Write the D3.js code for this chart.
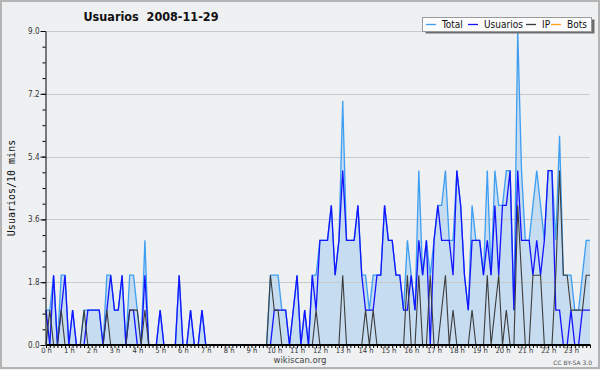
<!DOCTYPE html>
<html><head><meta charset="utf-8">
<script src="https://cdn.jsdelivr.net/npm/d3@7"></script>
<style>
body{margin:0;background:#fff;}
svg text{font-family:"DejaVu Sans Condensed","DejaVu Sans",sans-serif;font-stretch:condensed;}
</style></head><body>
<svg id="c" width="600" height="370"></svg>
<script>
const titleText = "Usuarios  2008-11-29";
const yLabel = "Usuarios/10 mins";
const hourLabels = ["0 h","1 h","2 h","3 h","4 h","5 h","6 h","7 h","8 h","9 h","10 h","11 h","12 h","13 h","14 h","15 h","16 h","17 h","18 h","19 h","20 h","21 h","22 h","23 h"];
const yTickValues = [0, 1.8, 3.6, 5.4, 7.2, 9.0];
const seriesNames = ["Total","Usuarios","IP","Bots"];

const total = [
1,1,2,0,2,2, 0,1,0,0,1,1, 1,1,1,0,2,2, 1,1,2,0,2,2,
1,0,3,0,0,0, 1,0,0,0,0,2, 0,0,1,0,0,1, 0,0,0,0,0,0,
0,0,0,0,0,0, 0,0,0,0,0,2, 2,2,1,1,0,1, 2,0,1,0,2,2,
3,3,3,4,2,3, 7,3,3,3,4,2, 2,1,2,2,2,4, 3,3,2,2,1,3,
2,1,5,2,3,2, 3,4,4,5,3,3, 5,4,2,1,4,3, 3,2,5,2,5,4,
4,5,5,1,9,5, 3,3,4,5,4,3, 5,5,3,6,2,2, 2,1,1,2,3,3];
const usuarios = [
1,0,2,0,1,2, 0,1,0,0,0,1, 1,1,1,0,1,2, 1,1,2,0,1,1,
0,0,2,0,0,0, 1,0,0,0,0,2, 0,0,1,0,0,1, 0,0,0,0,0,0,
0,0,0,0,0,0, 0,0,0,0,0,0, 1,1,1,1,0,1, 2,0,1,0,2,1,
3,3,3,4,2,3, 5,3,3,3,4,2, 1,1,1,2,2,4, 3,3,2,2,1,1,
2,1,3,2,3,0, 3,4,3,3,3,2, 5,4,2,1,3,3, 3,2,3,2,4,2,
4,4,5,1,5,3, 3,3,2,3,2,3, 5,5,1,1,0,0, 1,0,0,1,1,1];
const ip = [
0,1,0,0,1,0, 0,0,0,0,1,0, 0,0,0,0,1,0, 0,0,0,0,1,1,
1,0,1,0,0,0, 0,0,0,0,0,0, 0,0,0,0,0,0, 0,0,0,0,0,0,
0,0,0,0,0,0, 0,0,0,0,0,2, 1,1,0,0,0,0, 0,0,0,0,0,1,
0,0,0,0,0,0, 2,0,0,0,0,0, 1,0,1,0,0,0, 0,0,0,0,0,2,
0,0,2,0,0,2, 0,0,1,2,0,1, 0,0,0,0,1,0, 0,0,2,0,1,2,
0,1,0,0,4,2, 0,0,2,2,2,0, 0,0,2,5,2,2, 1,1,1,1,2,2];
const bots = [
0,0,0,0,0,0, 0,0,0,0,0,0, 0,0,0,0,0,0, 0,0,0,0,0,0,
0,0,0,0,0,0, 0,0,0,0,0,0, 0,0,0,0,0,0, 0,0,0,0,0,0,
0,0,0,0,0,0, 0,0,0,0,0,0, 0,0,0,0,0,0, 0,0,0,0,0,0,
0,0,0,0,0,0, 0,0,0,0,0,0, 0,0,0,0,0,0, 0,0,0,0,0,0,
0,0,0,0,0,0, 0,0,0,0,0,0, 0,0,0,0,0,0, 0,0,0,0,0,0,
0,0,0,0,0,0, 0,0,0,0,0,0, 0,0,0,0,0,0, 0,0,0,0,0,0];

const colors = {Total:"#3d9ef2", Usuarios:"#1414ff", IP:"#3c3c3c", Bots:"#ff9f1a"};
const series = [
  {name:"Total", values: total},
  {name:"Usuarios", values: usuarios},
  {name:"IP", values: ip},
  {name:"Bots", values: bots}
];

const W = 600, H = 370;
const L = 46, R = 590, T = 31, B = 345;
const svg = d3.select("#c");

svg.append("rect").attr("x",0).attr("y",0).attr("width",W).attr("height",H).attr("fill","#eef0f2");
svg.append("rect").attr("x",1).attr("y",1).attr("width",W-2).attr("height",H-3)
  .attr("fill","none").attr("stroke","#b4b4b4").attr("stroke-width",2);

const n = total.length;
const x = d3.scaleLinear().domain([0, n-1]).range([L, R]);
const y = d3.scaleLinear().domain([0, 9]).range([B, T]);

// area
svg.append("path").datum(total)
  .attr("d", d3.area().x((d,i)=>x(i)).y0(y(0)).y1(d=>y(d)))
  .attr("fill","#c6dcf0");

// gridlines
svg.append("g").selectAll("line").data(yTickValues.filter(v=>v>0)).join("line")
  .attr("x1",L).attr("x2",R).attr("y1",d=>Math.round(y(d))+0.5).attr("y2",d=>Math.round(y(d))+0.5)
  .attr("stroke","#c8c9cb").attr("stroke-width",1);

// lines
const line = d3.line().x((d,i)=>x(i)).y(d=>y(d));
svg.append("g").selectAll("path").data(series).join("path")
  .attr("d", d=>line(d.values))
  .attr("fill","none")
  .attr("stroke", d=>colors[d.name])
  .attr("stroke-width", d=> d.name==="IP" ? 1.1 : 1.3)
  .attr("stroke-linejoin","miter");

// x axis
const xAxis = d3.axisBottom(x)
  .tickValues(d3.range(0, n))
  .tickSize(3).tickSizeOuter(0).tickPadding(0).offset(0)
  .tickFormat(i => i % 6 === 0 ? hourLabels[i/6] : "");
const gx = svg.append("g").attr("transform",`translate(0.5,${B})`).call(xAxis);
gx.select(".domain").attr("stroke","#000").attr("stroke-width",2);
gx.selectAll(".tick line").attr("stroke","#000");
gx.selectAll(".tick text").attr("font-size","7.5px").attr("fill","#333")
  .style("font-family","'DejaVu Sans',sans-serif");

// y axis minor
const minorVals = d3.range(0, 21).map(k => k*0.45);
svg.append("g").attr("transform",`translate(${L-0.5},0)`)
  .call(d3.axisLeft(y).tickValues(minorVals).tickSize(3).tickSizeOuter(0).tickFormat(""))
  .call(g=>g.select(".domain").remove())
  .selectAll(".tick line").attr("stroke","#000");
const gy = svg.append("g").attr("transform",`translate(${L-0.5},0)`)
  .call(d3.axisLeft(y).tickValues(yTickValues).tickSize(5).tickSizeOuter(0).tickPadding(1)
    .tickFormat(d3.format(".1f")));
gy.select(".domain").attr("stroke","#000");
gy.selectAll(".tick line").attr("stroke","#000");
gy.selectAll(".tick text").attr("font-size","8px").attr("fill","#333")
  .style("font-family","'DejaVu Sans',sans-serif");

// title
svg.append("text").attr("x",151).attr("y",21).attr("text-anchor","middle")
  .style("white-space","pre").attr("font-weight","bold").attr("font-size","12.5px").attr("fill","#111")
  .text(titleText);

// y label
svg.append("text").attr("transform","translate(15,188) rotate(-90)").attr("text-anchor","middle")
  .style("font-family","'DejaVu Sans Mono',monospace").style("font-stretch","normal")
  .attr("font-size","10px").attr("fill","#111").text(yLabel);

// legend
const lg = svg.append("g");
lg.append("rect").attr("x",425.5).attr("y",19.5).attr("width",169).attr("height",14).attr("fill","#6e6e6e");
lg.append("rect").attr("x",422.5).attr("y",17.5).attr("width",169).attr("height",14)
  .attr("fill","#fcfcfc").attr("stroke","#9a9a9a");
const legX = [426, 468, 526, 551];
series.forEach((s,k)=>{
  lg.append("line").attr("x1",legX[k]).attr("x2",legX[k]+10).attr("y1",24.5).attr("y2",24.5)
    .attr("stroke",colors[s.name]).attr("stroke-width",1.3);
  lg.append("text").attr("x",legX[k]+16).attr("y",28.3).attr("font-size","10px").attr("fill","#111").text(s.name);
});

// footer
svg.append("text").attr("x",300).attr("y",363).attr("text-anchor","middle")
  .attr("font-size","8.5px").attr("fill","#444").style("font-family","'DejaVu Sans',sans-serif").style("font-stretch","normal").text("wikiscan.org");
svg.append("text").attr("x",592).attr("y",365).attr("text-anchor","end")
  .attr("font-size","6px").attr("fill","#555").style("font-family","'DejaVu Sans',sans-serif").style("font-stretch","normal").text("CC BY-SA 3.0");
</script>
</body></html>
